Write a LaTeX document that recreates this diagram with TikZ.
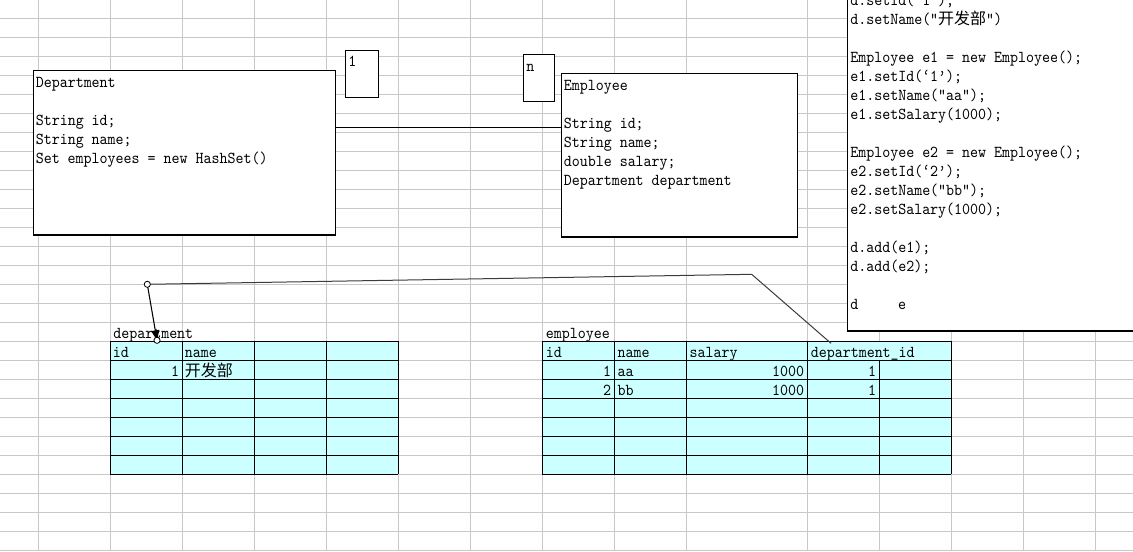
\documentclass[tikz,border=0pt]{standalone}
\usepackage{fontspec}
\newfontfamily\codefam[FakeStretch=0.914]{lmmono10-regular.otf}
\newfontfamily\cjkfam{Noto Sans CJK SC}
\usetikzlibrary{arrows.meta,fit}
\definecolor{gridc}{RGB}{200,200,200}
\definecolor{cellc}{RGB}{204,255,255}
\definecolor{connc}{RGB}{60,60,60}
\newcommand\cnt[1]{{\cjkfam\fontsize{12}{14}\selectfont #1}}
\tikzset{
  gridline/.style={draw=gridc, line width=0.75pt},
  umlbox/.style={draw=black, fill=white, line width=0.9pt, inner sep=0pt, outer sep=0pt},
  tline/.style={draw=black, line width=0.8pt},
  txt/.style={font=\codefam\fontsize{12.5}{14}\selectfont, inner sep=0pt, anchor=base west},
  rtxt/.style={font=\codefam\fontsize{12.5}{14}\selectfont, inner sep=0pt, anchor=base east},
  conn/.style={draw=black, line width=0.8pt},
  fkline/.style={draw=connc, line width=0.75pt},
  handle/.style={draw=black, fill=white, line width=0.6pt}
}
\begin{document}
\begin{tikzpicture}[x=0.75pt,y=-0.75pt]
\useasboundingbox (0,0) rectangle (1133,551);
\clip (0,0) rectangle (1133,551);
\fill[white] (0,0) rectangle (1133,551);
% spreadsheet grid
\foreach \x in {38.3,110.3,182.3,254.3,326.3,398.3,470.3,542.3,614.3,686.3,807.3,879.3,951.3,1023.3,1095.3}
  \draw[gridline] (\x,0) -- (\x,551);
\foreach \k in {1,...,29}
  \draw[gridline] (0,{-0.7+19*\k}) -- (1133,{-0.7+19*\k});

% department table
\fill[cellc] (110.3,341.3) rectangle (398.3,474.3);
\foreach \y in {341.3,360.3,...,474.4}
  \draw[tline] (110.3,\y) -- (398.3,\y);
\foreach \x in {110.3,182.3,254.3,326.3,398.3}
  \draw[tline] (\x,341.3) -- (\x,474.3);
\node[txt] (dlabel) at (113,338) {department};
\node[txt] (dh1) at (112.7,357.3) {id};
\node[txt] (dh2) at (184.5,357.3) {name};
\node[rtxt] (dr1) at (179.5,376.3) {1};
\node[inner sep=0pt, anchor=base west] (dr2) at (184.5,376.3) {\cnt{开发部}};

% employee table
\fill[cellc] (542.3,341.3) rectangle (951.3,474.3);
\foreach \y in {341.3,360.3,...,474.4}
  \draw[tline] (542.3,\y) -- (951.3,\y);
\foreach \x in {542.3,614.3,686.3,807.3,951.3}
  \draw[tline] (\x,341.3) -- (\x,474.3);
\draw[tline] (879.3,360.3) -- (879.3,474.3);
\node[txt] (elabel) at (545.5,338) {employee};
\node[txt] (eh1) at (545.5,357.3) {id};
\node[txt] (eh2) at (617.3,357.3) {name};
\node[txt] (eh3) at (689.3,357.3) {salary};
\node[txt] (efk) at (810.5,357.3) {department\_id};
\foreach \r/\i/\n in {0/1/aa,1/2/bb}{
  \node[rtxt] (eid\r) at (611.5,{376.3+19*\r}) {\i};
  \node[txt] (ename\r) at (617.3,{376.3+19*\r}) {\n};
  \node[rtxt] (esal\r) at (804.5,{376.3+19*\r}) {1000};
  \node[rtxt] (edep\r) at (876.5,{376.3+19*\r}) {1};
}

% UML class boxes
\node[umlbox, fit={(33.3,70.3) (335.3,235)}] (dept) {};
\node[umlbox, fit={(345.3,50.3) (378.3,97.3)}] (one) {};
\node[umlbox, fit={(523.3,54.3) (554.3,101.3)}] (many) {};
\node[umlbox, fit={(561.3,73.3) (797.3,237)}] (emp) {};
\node[txt] (onet) at (348,66.7) {1};
\node[txt] (manyt) at (526,71) {n};
\foreach \k/\t in {0/{Department},2/{String id;},3/{String name;},4/{Set employees = new HashSet()}}
  \node[txt] (dt\k) at (35.5,{87.3+19*\k}) {\t};
\foreach \k/\t in {0/{Employee},2/{String id;},3/{String name;},4/{double salary;},5/{Department department}}
  \node[txt] (et\k) at (563.5,{90+19*\k}) {\t};
\coordinate (assocy) at (0,127.3);
\draw[conn] (dept.east |- assocy) -- (emp.west |- assocy);

% code box
\node[umlbox, fit={(847.3,-5) (1140,331)}] (code) {};
\foreach \k/\t in {0/{d.setId(‘1’);},1/{d.setName(“\cnt{开发部}”)},3/{Employee e1 = new Employee();},4/{e1.setId(‘1’);},5/{e1.setName(“aa”);},6/{e1.setSalary(1000);},8/{Employee e2 = new Employee();},9/{e2.setId(‘2’);},10/{e2.setName(“bb”);},11/{e2.setSalary(1000);},13/{d.add(e1);},14/{d.add(e2);},16/{d~~~~~e}}
  \node[txt] (ct\k) at (850,{5.3+19*\k}) {\t};

% foreign key connector
\coordinate (fk) at (831,343.3);
\coordinate (bend1) at (751.7,274.3);
\coordinate (bend2) at (147.3,284.3);
\coordinate (pk) at (157,340.3);
\draw[fkline] (fk) -- (bend1) -- (bend2);
\draw[conn, -{Triangle[length=7.5pt,width=6pt]}] (bend2) -- (pk);
\draw[handle] (bend2) circle[radius=2.3pt];
\draw[handle] (pk) circle[radius=2.3pt];
\end{tikzpicture}
\end{document}
